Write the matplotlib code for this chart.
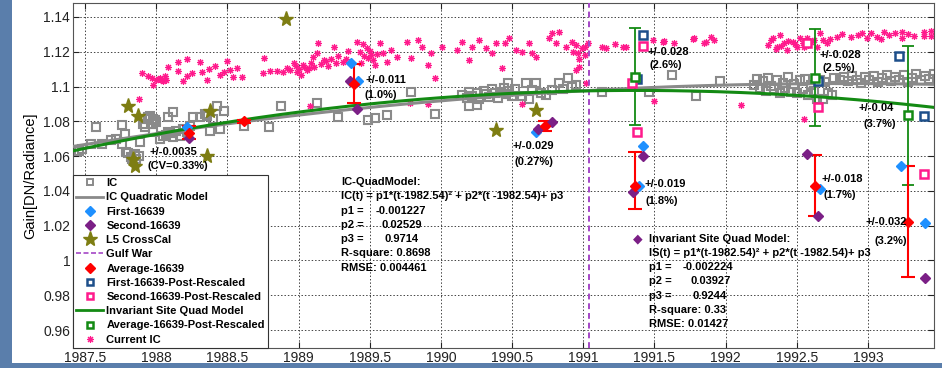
import numpy as np
import matplotlib.pyplot as plt
from matplotlib.lines import Line2D
from matplotlib.patches import Rectangle
from matplotlib.ticker import FuncFormatter, MultipleLocator

plt.rcParams['font.family'] = ['Liberation Sans', 'DejaVu Sans']

# ---------------- data ----------------
ic_year = [1987.46, 1987.48, 1987.54, 1987.58, 1987.62, 1987.68, 1987.72, 1987.76, 1987.76,
           1987.78, 1987.79, 1987.80, 1987.82, 1987.83, 1987.85, 1987.86, 1987.88, 1987.89,
           1987.91, 1987.92, 1987.94, 1987.95, 1987.96, 1987.97, 1987.98, 1987.99, 1988.0,
           1987.98, 1988.03, 1988.05, 1988.07, 1988.08, 1988.10, 1988.12, 1988.08, 1988.12,
           1988.14, 1988.17, 1988.19, 1988.22, 1988.24, 1988.26, 1988.31, 1988.34, 1988.36,
           1988.38, 1988.40, 1988.43, 1988.45, 1988.48, 1988.62, 1988.79, 1988.88, 1989.13,
           1989.28, 1989.49, 1989.54, 1989.62, 1989.79, 1989.96, 1990.20, 1990.25,
           1990.15, 1990.18, 1990.20, 1990.22, 1990.25, 1990.27, 1990.30, 1990.32, 1990.34,
           1990.36, 1990.38, 1990.40, 1990.42, 1990.44, 1990.46, 1990.48, 1990.50, 1990.52,
           1990.47, 1990.57, 1990.60, 1990.62, 1990.64, 1990.67, 1990.70, 1990.74, 1990.78,
           1990.83, 1990.86, 1990.89, 1990.92, 1990.95, 1991.13,
           1991.46, 1991.62, 1991.79, 1991.96,
           1992.20, 1992.22, 1992.24, 1992.26, 1992.28, 1992.30, 1992.32, 1992.34, 1992.36,
           1992.38, 1992.40, 1992.42, 1992.44, 1992.46, 1992.48, 1992.50, 1992.52, 1992.54,
           1992.56, 1992.58, 1992.60, 1992.62, 1992.64, 1992.66, 1992.68, 1992.70, 1992.72,
           1992.75, 1992.76, 1992.80, 1992.83, 1992.86, 1992.89, 1992.92, 1992.95, 1992.98,
           1993.01, 1993.04, 1993.07, 1993.10, 1993.13, 1993.16, 1993.19, 1993.22, 1993.25,
           1993.28, 1993.31, 1993.34, 1993.37, 1993.40, 1993.43, 1993.46]
ic_gain = [1.0630, 1.0640, 1.0670, 1.0766, 1.0670, 1.0690, 1.0700, 1.0777, 1.0669,
           1.0726, 1.0623, 1.0620, 1.0594, 1.0583, 1.0611, 1.0583, 1.0600, 1.0680,
           1.0783, 1.0770, 1.0823, 1.0815, 1.0830, 1.0785, 1.0811, 1.0810, 1.0794,
           1.0737, 1.0697, 1.0714, 1.0720, 1.0823, 1.0735, 1.0851, 1.0737, 1.0709,
           1.0745, 1.0714, 1.0755, 1.0737, 1.0775, 1.0823, 1.0823, 1.0840, 1.0829,
           1.0743, 1.0815, 1.0886, 1.0754, 1.0857, 1.0771, 1.0766, 1.0886, 1.0903,
           1.0823, 1.0806, 1.0817, 1.0834, 1.0966, 1.0840, 1.0886, 1.0891,
           1.0950, 1.0935, 1.0970, 1.0945, 1.0965, 1.0930, 1.0975, 1.0955, 1.0940,
           1.0985, 1.0960, 1.0935, 1.0970, 1.0992, 1.0955, 1.0975, 1.0945, 1.0985,
           1.1023, 1.0943, 1.1023, 1.0926, 1.0980, 1.1023, 1.0965, 1.0954, 1.0980,
           1.1023, 1.0985, 1.1051, 1.0995, 1.1011, 1.0966,
           1.0966, 1.1069, 1.0943, 1.1029,
           1.1010, 1.1045, 1.0990, 1.1030, 1.0975, 1.1050, 1.1005, 1.0985, 1.1040,
           1.0965, 1.1020, 1.0990, 1.1055, 1.0970, 1.1015, 1.0960, 1.1035, 1.0985,
           1.1045, 1.0950, 1.1010, 1.0975, 1.0930, 1.1040, 1.0926, 1.1025, 1.0965,
           1.0954, 1.1050, 1.1035, 1.1055, 1.1030, 1.1060, 1.1040, 1.1020, 1.1055,
           1.1035, 1.1060, 1.1025, 1.1050, 1.1065, 1.1030, 1.1055, 1.1040, 1.1065,
           1.1025, 1.1050, 1.1070, 1.1035, 1.1060, 1.1045, 1.1070]

cur_year = [1987.88, 1987.90, 1987.94, 1987.97, 1987.98, 1988.00, 1988.02, 1988.03, 1988.04,
            1988.05, 1988.06, 1988.07, 1988.08, 1988.15, 1988.15, 1988.19, 1988.22, 1988.22,
            1988.25, 1988.31, 1988.32, 1988.36, 1988.37, 1988.41, 1988.45, 1988.48, 1988.50,
            1988.52, 1988.54, 1988.57, 1988.60, 1988.75, 1988.76, 1988.80, 1988.85, 1988.89,
            1988.92, 1988.94, 1988.97, 1988.98, 1988.99, 1989.00, 1989.02, 1989.03, 1989.04,
            1989.06, 1989.07, 1989.08, 1989.09, 1989.10, 1989.11, 1989.13, 1989.14, 1989.16,
            1989.18, 1989.19, 1989.21, 1989.23, 1989.25, 1989.26, 1989.28, 1989.31, 1989.33,
            1989.35, 1989.41, 1989.43, 1989.44, 1989.45, 1989.46, 1989.48, 1989.49, 1989.50,
            1989.51, 1989.52, 1989.54, 1989.55, 1989.57, 1989.59, 1989.62, 1989.65, 1989.69,
            1989.76, 1989.78, 1989.79, 1989.84, 1989.87, 1989.91, 1989.91, 1989.93, 1989.96,
            1990.01, 1990.11, 1990.15, 1990.20, 1990.22, 1990.27, 1990.32, 1990.36, 1990.39,
            1990.43, 1990.45, 1990.48, 1990.53, 1990.57, 1990.57, 1990.62, 1990.64, 1990.67,
            1990.76, 1990.78, 1990.81, 1990.83, 1990.88, 1990.92, 1990.93, 1990.95, 1990.95,
            1990.96, 1990.97, 1990.97, 1990.99, 1991.01, 1991.01, 1991.02, 1991.03, 1991.13,
            1991.16, 1991.22, 1991.28, 1991.30, 1991.49, 1991.50, 1991.56, 1991.57, 1991.64,
            1991.77, 1991.78, 1991.85, 1991.86, 1991.90, 1991.92, 1992.11, 1992.30, 1992.32,
            1992.33, 1992.35, 1992.36, 1992.38, 1992.39, 1992.41, 1992.43, 1992.44, 1992.47,
            1992.49, 1992.50, 1992.52, 1992.54, 1992.55, 1992.55, 1992.57, 1992.58, 1992.60,
            1992.62, 1992.64, 1992.66, 1992.68, 1992.71, 1992.73, 1992.78, 1992.82, 1992.88,
            1992.93, 1992.96, 1992.99, 1993.02, 1993.06, 1993.09, 1993.11, 1993.15, 1993.19,
            1993.24, 1993.24, 1993.28, 1993.32, 1993.39, 1993.39, 1993.44, 1993.44]
cur_gain = [1.0931, 1.1080, 1.1060, 1.1050, 1.1010, 1.1040, 1.1045, 1.1050, 1.1035,
            1.1030, 1.1060, 1.1040, 1.1110, 1.1140, 1.1090, 1.1030, 1.1060, 1.1160,
            1.1080, 1.1140, 1.1086, 1.1040, 1.1100, 1.1120, 1.1069, 1.1086, 1.1149,
            1.1097, 1.1057, 1.1109, 1.1057, 1.1080, 1.1166, 1.1091, 1.1091, 1.1086,
            1.1109, 1.1097, 1.1137, 1.1120, 1.1086, 1.1103, 1.1069, 1.1126, 1.1114,
            1.1097, 1.1109, 1.0886, 1.1137, 1.1171, 1.1114, 1.1194, 1.1251, 1.1131,
            1.1154, 1.1149, 1.1120, 1.1160, 1.1229, 1.1137, 1.1177, 1.1143, 1.1160,
            1.1206, 1.1257, 1.1200, 1.1137, 1.1246, 1.1177, 1.1223, 1.1166, 1.1206,
            1.1183, 1.1154, 1.1126, 1.1189, 1.1251, 1.1194, 1.1143, 1.1211, 1.1171,
            1.1257, 1.0903, 1.1166, 1.1269, 1.1229, 1.1126, 1.0897, 1.1194, 1.1051,
            1.1229, 1.1211, 1.1257, 1.1154, 1.1229, 1.1269, 1.1223, 1.1194, 1.1251,
            1.1109, 1.1251, 1.1280, 1.1211, 1.1200, 1.0897, 1.1251, 1.1194, 1.1171,
            1.1280, 1.1309, 1.1251, 1.1314, 1.1229, 1.1257, 1.1200, 1.1240, 1.1097,
            1.1194, 1.1160, 1.1114, 1.1223, 1.1229, 1.1180, 1.1023, 1.1250, 1.1229,
            1.1220, 1.1246, 1.1229, 1.1229, 1.1269, 1.0914, 1.1257, 1.1263, 1.1251,
            1.1274, 1.1280, 1.1251, 1.1257, 1.1286, 1.1269, 1.0891, 1.1240, 1.1269,
            1.1280, 1.1214, 1.1229, 1.1297, 1.1234, 1.1251, 1.1211, 1.1262, 1.1257,
            1.1245, 1.1229, 1.1280, 1.1251, 1.1226, 1.0811, 1.1280, 1.1240, 1.1257,
            1.1268, 1.1229, 1.1309, 1.1269, 1.1251, 1.1275, 1.1286, 1.1300, 1.1286,
            1.1295, 1.1309, 1.1280, 1.1309, 1.1286, 1.1275, 1.1314, 1.1297, 1.1309,
            1.1314, 1.1280, 1.1300, 1.1290, 1.1314, 1.1290, 1.1320, 1.1290]

l5_year = [1987.80, 1987.87, 1988.38, 1988.36, 1987.84, 1987.85, 1988.91, 1990.39, 1990.67]
l5_gain = [1.0886, 1.0829, 1.0857, 1.0600, 1.0583, 1.0543, 1.1389, 1.0749, 1.0863]

first_year = [1988.22, 1989.37, 1989.42, 1990.67, 1991.39, 1991.42, 1992.66, 1993.23, 1993.40]
first_gain = [1.0766, 1.1137, 1.1034, 1.0737, 1.0429, 1.0657, 1.0411, 1.0543, 1.0217]

second_year = [1988.23, 1989.36, 1989.41, 1990.68, 1990.78, 1991.35, 1991.42, 1992.57, 1992.65, 1993.40]
second_gain = [1.0705, 1.1034, 1.0869, 1.0754, 1.0794, 1.0394, 1.0600, 1.0611, 1.0257, 0.9897]

avg_year = [1988.23, 1988.62, 1989.39, 1990.73, 1991.36, 1992.63, 1993.28]
avg_gain = [1.0734, 1.0800, 1.1017, 1.0771, 1.0429, 1.0429, 1.0223]
avg_err_lo = [0.0037, 0.0010, 0.0110, 0.0029, 0.0132, 0.0172, 0.0320]
avg_err_hi = [0.0037, 0.0010, 0.0110, 0.0029, 0.0194, 0.0177, 0.0320]

post_first_year = [1991.38, 1991.42, 1992.65, 1993.22, 1993.39]
post_first_gain = [1.1046, 1.1297, 1.1034, 1.1177, 1.0829]
post_second_year = [1991.34, 1991.42, 1991.38, 1992.65, 1992.57, 1993.39]
post_second_gain = [1.1023, 1.1234, 1.0737, 1.0880, 1.1251, 1.0497]
post_avg_year = [1991.36, 1992.63, 1993.28]
post_avg_gain = [1.1057, 1.1051, 1.0834]
post_avg_err = [0.028, 0.0277, 0.040]

gulf_war = 1991.04
t_ref = 1982.54
ic_coef = [-0.001227, 0.02529, 0.9714]
is_coef = [-0.002224, 0.03927, 0.9244]

# colours
GRAY = '#8a8a8a'
PINK = '#ff1a8c'
OLIVE = '#7d7d12'
BLUE = '#1e90ff'
PURPLE = '#7b1f86'
RED = '#ff0000'
NAVY = '#1d4f8a'
GREEN = '#138a13'
GULF = '#a447c6'
ASTER = (8, 2, 0)   # matlab-like asterisk

# ---------------- figure ----------------
fig = plt.figure(figsize=(9.42, 3.68), dpi=100, facecolor='#5a7eab')
fig.patches.append(Rectangle((12 / 942, 5 / 368), 930 / 942, 363 / 368,
                             transform=fig.transFigure, facecolor='white',
                             edgecolor='none', zorder=-10))
ax = fig.add_axes([73 / 942, 20 / 368, 861 / 942, 345 / 368])
ax.set_xlim(1987.416, 1993.463)
ax.set_ylim(0.9497, 1.148)

t = np.linspace(1987.416, 1993.463, 300)
ic_fit = np.polyval(ic_coef, t - t_ref)
is_fit = np.polyval(is_coef, t - t_ref)

ax.plot(ic_year, ic_gain, 's', mfc='none', mec=GRAY, ms=6, mew=1.5, zorder=2)
ax.plot(cur_year, cur_gain, ls='none', marker=ASTER, color=PINK, ms=5, mew=0.8, zorder=2)
ax.plot(t, ic_fit, '-', color=GRAY, lw=2.2, zorder=3)
ax.plot(t, is_fit, '-', color=GREEN, lw=2.2, zorder=4)
ax.plot(l5_year, l5_gain, '*', color=OLIVE, ms=11, mec=OLIVE, zorder=5)
ax.axvline(gulf_war, color=GULF, ls=(0, (3, 2)), lw=1.4, zorder=3)

ax.errorbar(post_avg_year, post_avg_gain, yerr=post_avg_err, fmt='none',
            ecolor=GREEN, elinewidth=1.3, capsize=4, capthick=1.3, zorder=5)
ax.errorbar(avg_year, avg_gain, yerr=[avg_err_lo, avg_err_hi], fmt='none',
            ecolor=RED, elinewidth=1.5, capsize=5, capthick=1.5, zorder=6)
ax.plot(first_year, first_gain, 'D', color=BLUE, ms=5, zorder=7)
ax.plot(second_year, second_gain, 'D', color=PURPLE, ms=5.5, zorder=7)
ax.plot(avg_year, avg_gain, 'D', color=RED, ms=5.5, zorder=8)
ax.plot(post_first_year, post_first_gain, 's', mfc='white', mec=NAVY, ms=6, mew=1.8, zorder=7)
ax.plot(post_second_year, post_second_gain, 's', mfc='white', mec=PINK, ms=6, mew=1.8, zorder=7)
ax.plot(post_avg_year, post_avg_gain, 's', mfc='white', mec=GREEN, ms=6, mew=1.8, zorder=8)

# annotations
bold = dict(fontsize=8, fontweight='bold', color='black', va='center', zorder=9)
notes = [
    (1987.956, 1.0623, '+/-0.0035'), (1987.94, 1.0543, '(CV=0.33%)'),
    (1989.47, 1.1040, '+/-0.011'), (1989.46, 1.0954, '(1.0%)'),
    (1990.50, 1.0657, '+/-0.029'), (1990.52, 1.0566, '(0.27%)'),
    (1991.45, 1.1200, '+/-0.028'), (1991.465, 1.1126, '(2.6%)'),
    (1991.43, 1.0440, '+/-0.019'), (1991.44, 1.0343, '(1.8%)'),
    (1992.66, 1.1183, '+/-0.028'), (1992.68, 1.1109, '(2.5%)'),
    (1992.67, 1.0469, '+/-0.018'), (1992.69, 1.0377, '(1.7%)'),
    (1992.93, 1.0874, '+/-0.04'), (1992.97, 1.0783, '(3.7%)'),
]
for x, y, s in notes:
    ax.text(x, y, s, ha='left', **bold)
ax.text(1993.27, 1.0223, '+/-0.032', ha='right', **bold)
ax.text(1993.27, 1.0114, '(3.2%)', ha='right', **bold)

step = 0.0082
y0 = 1.0451
ax.text(1989.30, y0, 'IC-QuadModel:', ha='left', **bold)
ax.text(1989.30, y0 - step, 'IC(t) = p1*(t-1982.54)² + p2*(t -1982.54)+ p3', ha='left', **bold)
for i, (lab, val, xv) in enumerate([('p1 =', '-0.001227', 1989.54),
                                     ('p2 =', '0.02529', 1989.58),
                                     ('p3 =', '0.9714', 1989.605)]):
    ax.text(1989.30, y0 - (i + 2) * step, lab, ha='left', **bold)
    ax.text(xv, y0 - (i + 2) * step, val, ha='left', **bold)
ax.text(1989.30, y0 - 5 * step, 'R-square: 0.8698', ha='left', **bold)
ax.text(1989.30, y0 - 6 * step, 'RMSE: 0.004461', ha='left', **bold)

y1 = 1.0126
ax.text(1991.38, y1, '◆', color=PURPLE, fontsize=9, ha='center', va='center',
        family='DejaVu Sans', zorder=9)
ax.text(1991.46, y1, 'Invariant Site Quad Model:', ha='left', **bold)
ax.text(1991.46, y1 - step, 'IS(t) = p1*(t-1982.54)² + p2*(t -1982.54)+ p3', ha='left', **bold)
for i, (lab, val, xv) in enumerate([('p1 =', '-0.002224', 1991.70),
                                     ('p2 =', '0.03927', 1991.75),
                                     ('p3 =', '0.9244', 1991.77)]):
    ax.text(1991.46, y1 - (i + 2) * step, lab, ha='left', **bold)
    ax.text(xv, y1 - (i + 2) * step, val, ha='left', **bold)
ax.text(1991.46, y1 - 5 * step, 'R-square: 0.33', ha='left', **bold)
ax.text(1991.46, y1 - 6 * step, 'RMSE: 0.01427', ha='left', **bold)

# axes styling
ax.xaxis.set_major_locator(MultipleLocator(0.5))
ax.yaxis.set_major_locator(MultipleLocator(0.02))
fmt = FuncFormatter(lambda v, p: '%g' % round(v, 4))
ax.xaxis.set_major_formatter(fmt)
ax.yaxis.set_major_formatter(fmt)
ax.tick_params(direction='in', length=4, width=0.8, top=True, right=True,
               labelsize=10, pad=2, colors='#222222')
ax.grid(True, color='#444444', ls=(0, (1.5, 2)), lw=0.7, zorder=0)
ax.set_axisbelow(True)
for sp in ax.spines.values():
    sp.set_color('#555555')
    sp.set_linewidth(0.8)
ax.set_ylabel('Gain[DN/Radiance]', fontsize=10.5, labelpad=4)

handles = [
    Line2D([], [], ls='none', marker='s', mfc='none', mec=GRAY, ms=5, mew=1.4),
    Line2D([], [], color=GRAY, lw=2),
    Line2D([], [], ls='none', marker='D', color=BLUE, ms=5),
    Line2D([], [], ls='none', marker='D', color=PURPLE, ms=5.5),
    Line2D([], [], ls='none', marker='*', color=OLIVE, ms=11),
    Line2D([], [], color=GULF, ls=(0, (3, 1.5)), lw=1.2),
    Line2D([], [], ls='none', marker='D', color=RED, ms=5.5),
    Line2D([], [], ls='none', marker='s', mfc='white', mec=NAVY, ms=5, mew=1.8),
    Line2D([], [], ls='none', marker='s', mfc='white', mec=PINK, ms=5, mew=1.8),
    Line2D([], [], color=GREEN, lw=2),
    Line2D([], [], ls='none', marker='s', mfc='white', mec=GREEN, ms=5, mew=1.8),
    Line2D([], [], ls='none', marker=ASTER, color=PINK, ms=5, mew=0.8),
]
labels = ['IC', 'IC Quadratic Model', 'First-16639', 'Second-16639', 'L5 CrossCal',
          'Gulf War', 'Average-16639', 'First-16639-Post-Rescaled',
          'Second-16639-Post-Rescaled', 'Invariant Site Quad Model',
          'Average-16639-Post-Rescaled', 'Current IC']
leg = ax.legend(handles, labels, loc='lower left', bbox_to_anchor=(0, 0),
                borderaxespad=0, fancybox=False, framealpha=1, edgecolor='#333333',
                prop=dict(size=8, weight='bold'), handlelength=2.4,
                handletextpad=0.3, labelspacing=0.38, borderpad=0.3)
leg.get_frame().set_linewidth(0.8)
leg.set_zorder(10)

fig.savefig('out.png', dpi=100, facecolor=fig.get_facecolor())
